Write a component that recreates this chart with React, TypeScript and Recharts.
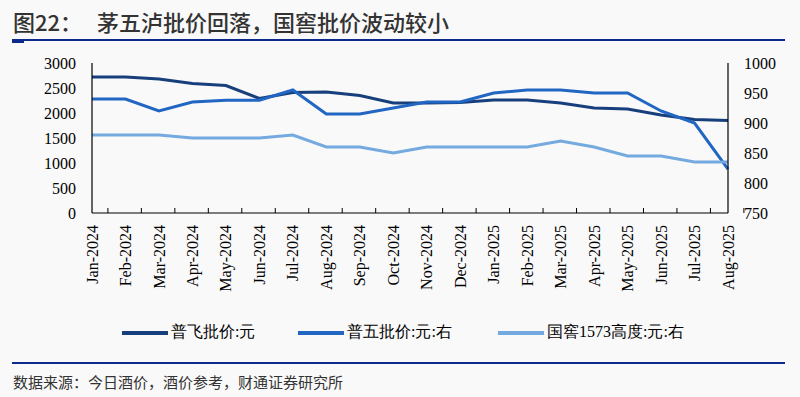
import { Legend, Line, LineChart, XAxis, YAxis } from 'recharts';

const months = [
  'Jan-2024', 'Feb-2024', 'Mar-2024', 'Apr-2024', 'May-2024', 'Jun-2024', 'Jul-2024',
  'Aug-2024', 'Sep-2024', 'Oct-2024', 'Nov-2024', 'Dec-2024', 'Jan-2025', 'Feb-2025',
  'Mar-2025', 'Apr-2025', 'May-2025', 'Jun-2025', 'Jul-2025', 'Aug-2025',
];
// 普飞批价 (left axis)
const feitian = [2720, 2720, 2680, 2590, 2550, 2290, 2410, 2420, 2350, 2200, 2200, 2210, 2260, 2260, 2200, 2100, 2080, 1960, 1870, 1850];
// 普五批价 (right axis)
const wuliangye = [940, 940, 920, 935, 938, 938, 955, 915, 915, 925, 935, 935, 950, 955, 955, 950, 950, 920, 900, 823];
// 国窖1573高度 (right axis)
const guojiao = [880, 880, 880, 875, 875, 875, 880, 860, 860, 850, 860, 860, 860, 860, 870, 860, 845, 845, 835, 835];

const leftTicks = [0, 500, 1000, 1500, 2000, 2500, 3000];
const rightTicks = [750, 800, 850, 900, 950, 1000];

const data = months.map((m, i) => ({ month: m, feitian: feitian[i], wuliangye: wuliangye[i], guojiao: guojiao[i] }));

const series = [
  { key: 'feitian', name: '普飞批价:元', color: '#173F7C', axis: 'left', slot: 176 },
  { key: 'wuliangye', name: '普五批价:元:右', color: '#2166C2', axis: 'right', slot: 200 },
  { key: 'guojiao', name: '国窖1573高度:元:右', color: '#74AADF', axis: 'right', slot: 220 },
];

const SERIF = "'Liberation Serif', 'Times New Roman', Tinos, serif";
const SANS = "'Noto Sans CJK SC', 'Noto Sans', sans-serif";
const BAND = 636 / months.length;

function MonthTick({ x, y, payload }: { x?: number; y?: number; payload?: { value: string } }) {
  const px = x ?? 0;
  const py = y ?? 0;
  return (
    <g>
      <line x1={px + BAND / 2} x2={px + BAND / 2} y1={py} y2={py - 5} stroke="#000" strokeWidth={1} />
      <text
        x={px}
        y={py + 12}
        transform={`rotate(-90, ${px}, ${py + 12})`}
        textAnchor="end"
        dy="0.35em"
        fontSize={16}
        style={{ fontFamily: SERIF }}
        fill="#000"
      >
        {payload?.value}
      </text>
    </g>
  );
}

function LegendBox() {
  return (
    <div style={{ display: 'flex', alignItems: 'center', paddingLeft: 122, fontFamily: SERIF, fontSize: 16, color: '#000' }}>
      {series.map((s) => (
        <div key={s.key} style={{ display: 'flex', alignItems: 'center', width: s.slot, flex: 'none' }}>
          <span style={{ display: 'inline-block', width: 46, height: 4, background: s.color, marginRight: 3 }} />
          <span style={{ whiteSpace: 'nowrap' }}>{s.name}</span>
        </div>
      ))}
    </div>
  );
}

export default function App() {
  return (
    <div style={{ position: 'absolute', left: 0, top: 0, width: 800, height: 397, background: '#F9F9F9', overflow: 'hidden' }}>
      <div style={{ position: 'absolute', left: 13, top: 6, fontFamily: SANS, fontSize: 22, fontWeight: 500, color: '#333', whiteSpace: 'pre', lineHeight: '30px' }}>
        {'图22：   茅五泸批价回落，国窖批价波动较小'}
      </div>
      <div style={{ position: 'absolute', left: 12, top: 39, width: 773, height: 2, background: '#0B2A8C' }} />
      <div style={{ position: 'absolute', left: 12, top: 39, width: 12, height: 4, background: '#0B2A8C' }} />

      <div style={{ position: 'absolute', left: 0, top: 0 }}>
        <LineChart width={800} height={300} data={data} margin={{ top: 63, right: 12, left: 32, bottom: 7 }}>
          <XAxis
            dataKey="month"
            interval={0}
            height={80}
            tickLine={false}
            tickSize={0}
            tickMargin={0}
            axisLine={{ stroke: '#000', strokeWidth: 1.2 }}
            tick={<MonthTick />}
          />
          <YAxis
            yAxisId="left"
            domain={[0, 3000]}
            ticks={leftTicks}
            width={60}
            tickLine={false}
            tickMargin={10}
            axisLine={{ stroke: '#000', strokeWidth: 1.2 }}
            tick={{ fontSize: 16, style: { fontFamily: SERIF }, fill: '#000' }}
          />
          <YAxis
            yAxisId="right"
            orientation="right"
            domain={[750, 1000]}
            ticks={rightTicks}
            width={60}
            tickLine={false}
            tickMargin={10}
            axisLine={{ stroke: '#000', strokeWidth: 1.2 }}
            tick={{ fontSize: 16, style: { fontFamily: SERIF }, fill: '#000' }}
          />
          <Legend
            verticalAlign="middle"
            align="center"
            layout="horizontal"
            wrapperStyle={{ top: 322, left: 0, width: 800 }}
            content={<LegendBox />}
          />
          {series.map((s) => (
            <Line
              key={s.key}
              yAxisId={s.axis}
              type="linear"
              dataKey={s.key}
              name={s.name}
              stroke={s.color}
              strokeWidth={3}
              dot={false}
              isAnimationActive={false}
            />
          ))}
        </LineChart>
      </div>

      <div style={{ position: 'absolute', left: 12, top: 362, width: 773, height: 2, background: '#0B2A8C' }} />
      <div style={{ position: 'absolute', left: 13, top: 370, fontFamily: SANS, fontSize: 15, color: '#333', lineHeight: '24px' }}>
        数据来源：今日酒价，酒价参考，财通证券研究所
      </div>
    </div>
  );
}
